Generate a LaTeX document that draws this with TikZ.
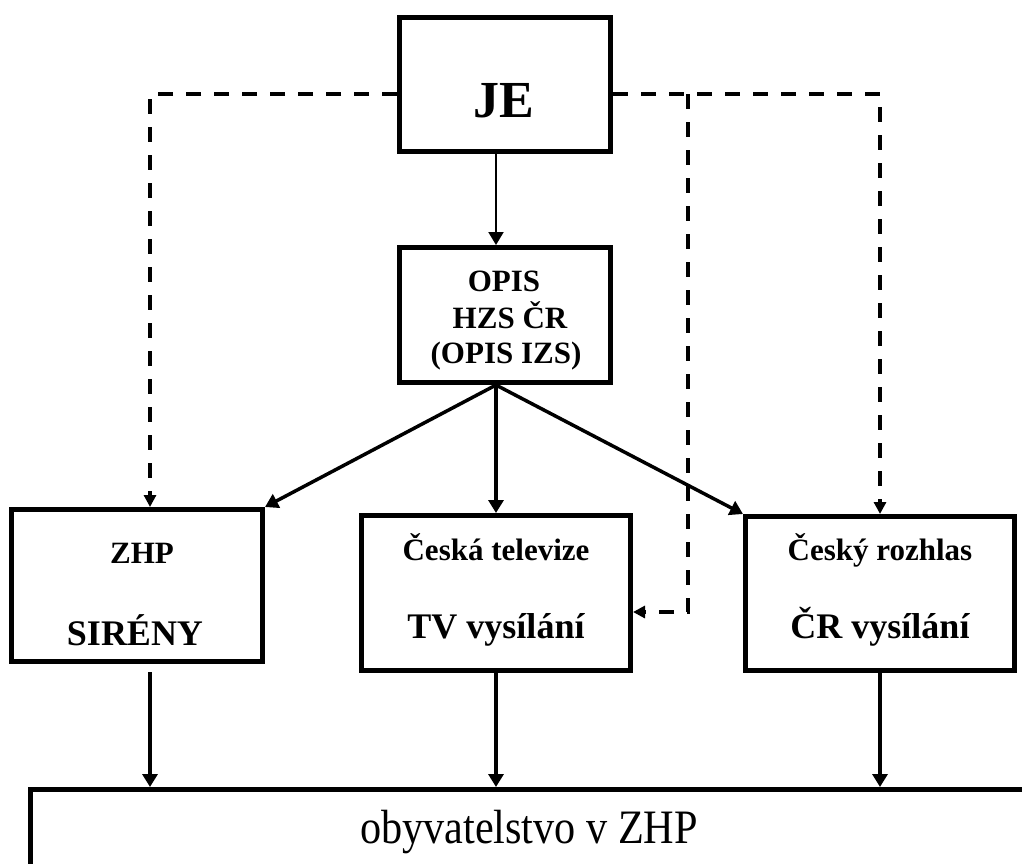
\documentclass[tikz,border=0pt]{standalone}
\usepackage{fontspec}
\usepackage{graphicx}
\setmainfont{Liberation Serif}
\usetikzlibrary{arrows.meta,calc}
\begin{document}
\begin{tikzpicture}[x=1pt,y=-1pt,
  box/.style={draw,line width=5pt,inner sep=0pt},
  small/.style={font=\bfseries\fontsize{31}{31}\selectfont,anchor=base,inner sep=0pt},
  big/.style={font=\bfseries\fontsize{36}{36}\selectfont,anchor=base,inner sep=0pt},
  solidarrow/.style={line width=3.5pt,-{Triangle[length=13pt,width=15pt]}},
  thinarrow/.style={line width=2pt,-{Triangle[length=13pt,width=15pt]}},
  dasharrow/.style={line width=3.5pt,dash pattern=on 15pt off 13pt,-{Triangle[length=12pt,width=12pt]}}]
\clip (0,0) rectangle (1022,863);
\fill[white] (0,0) rectangle (1022,863);
% helper columns
\coordinate (cL) at (150,0);
\coordinate (cC) at (496,0);
\coordinate (cM) at (688,94);
% boxes
\node[box,minimum width=211pt,minimum height=134pt] (je) at (505,84.5) {};
\node[box,minimum width=211pt,minimum height=135pt] (opis) at (505,315) {};
\node[box,minimum width=251pt,minimum height=152pt] (zhp) at (137,585.5) {};
\node[box,minimum width=269pt,minimum height=155pt] (tv) at (496,593) {};
\node[box,minimum width=269pt,minimum height=154pt] (cr) at (880,593.5) {};
\node[box,minimum width=1100pt,minimum height=200pt] (pop) at (580.5,889.5) {};
% texts
\node[font=\bfseries\fontsize{52}{52}\selectfont,anchor=base,inner sep=0pt] (jet) at (504,117) {JE};
\node[small] (opis1) at (504,291) {OPIS};
\node[small] (opis2) at (510,328) {HZS ČR};
\node[small] (opis3) at (506,363) {(OPIS IZS)};
\node[small] (zhp1) at (142,563) {ZHP};
\node[big] (zhp2) at (135,645) {SIRÉNY};
\node[small] (tv1) at (496,560) {Česká televize};
\node[big] (tv2) at (496,638) {TV vysílání};
\node[small] (cr1) at (880,560) {Český rozhlas};
\node[big] (cr2) at (880,638) {ČR vysílání};
\node[font=\fontsize{48}{48}\selectfont,anchor=base,inner sep=0pt] (popt) at (529,843) {\scalebox{0.88}[1]{obyvatelstvo v ZHP}};
% solid connectors
\draw[thinarrow] (je.south -| cC) -- (opis.north -| cC);
\draw[solidarrow] (opis.south -| cC) -- (zhp.north east);
\draw[solidarrow] (opis.south -| cC) -- (tv.north);
\draw[solidarrow] (opis.south -| cC) -- (cr.north west);
\draw[solidarrow] ($(zhp.south -| cL)+(0,8)$) -- (pop.north -| cL);
\draw[solidarrow] (tv.south) -- (pop.north -| tv.south);
\draw[solidarrow] (cr.south) -- (pop.north -| cr.south);
% dashed connectors
\draw[dasharrow] ($(je.west)+(0,9.5)$) -| (zhp.north -| cL);
\draw[dasharrow] ($(je.east)+(0,9.5)$) -| (cr.north);
\draw[dasharrow] (cM) |- ($(tv.east)+(0,19)$);
\end{tikzpicture}
\end{document}
